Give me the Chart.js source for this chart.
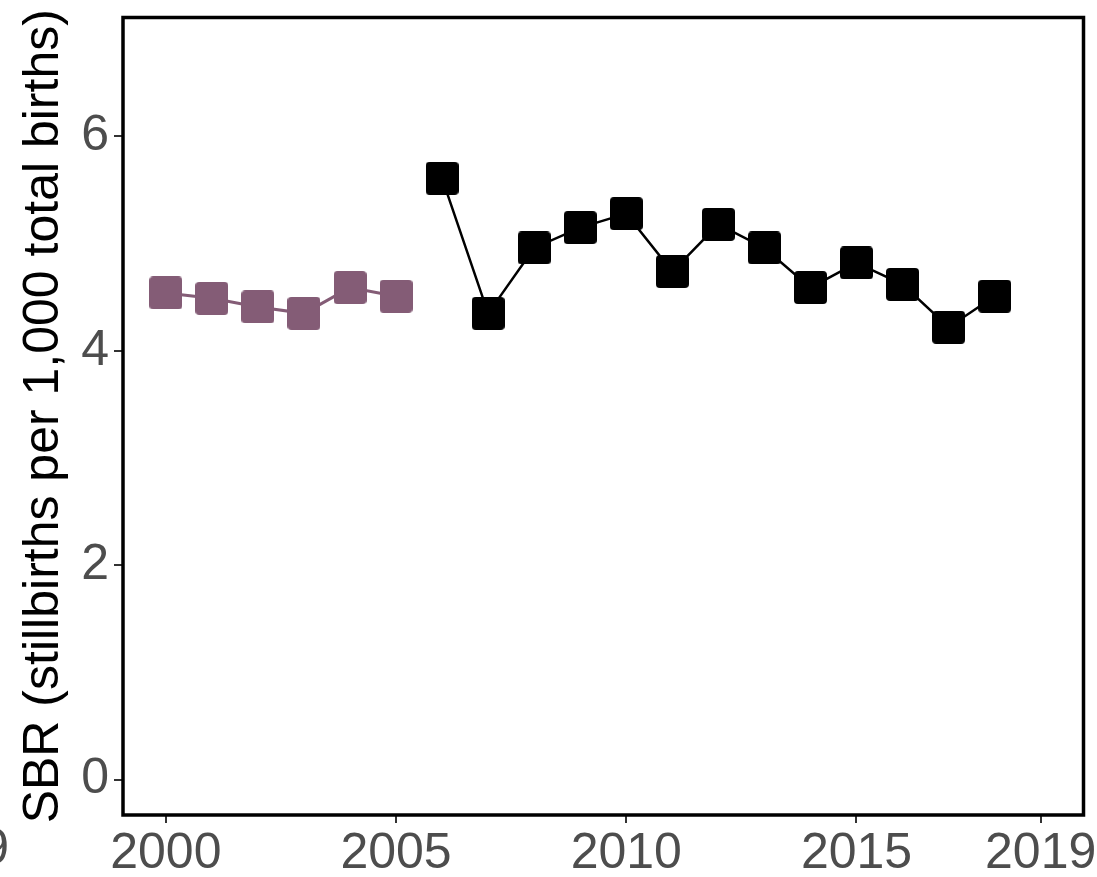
<!DOCTYPE html>
<html>
<head>
<meta charset="utf-8">
<script src="https://cdn.jsdelivr.net/npm/chart.js@4"></script>
<style>
  html, body { margin: 0; padding: 0; background: #fff; overflow: hidden; }
  #wrap { width: 1103px; height: 879px; margin-top: -2px; position: relative; }
  canvas { display: block; }
</style>
</head>
<body>
<div id="wrap"><canvas id="sbrChart"></canvas></div>
<script>
// Datos
const yearsEarly = [2000, 2001, 2002, 2003, 2004, 2005];
const sbrEarly = [4.54, 4.49, 4.41, 4.35, 4.59, 4.51];
const yearsLate = [2006, 2007, 2008, 2009, 2010, 2011, 2012, 2013, 2014, 2015, 2016, 2017, 2018];
const sbrLate = [5.61, 4.35, 4.96, 5.15, 5.28, 4.74, 5.18, 4.96, 4.59, 4.82, 4.62, 4.22, 4.51];
const xTicks = [2000, 2005, 2010, 2015, 2019];
const yTicks = [0, 2, 4, 6];

const PURPLE = '#845C76';
const TICK_GRAY = '#4D4D4D';
const FONT = '"Liberation Sans", Arial, sans-serif';

// Marcador cuadrado con esquinas apenas redondeadas
function makeSquare(color, size) {
    const c = document.createElement('canvas');
    c.width = size;
    c.height = size;
    const ctx = c.getContext('2d');
    ctx.fillStyle = color;
    ctx.beginPath();
    ctx.roundRect(0, 0, size, size, 4);
    ctx.fill();
    return c;
}

function toPoints(xs, ys) {
    return xs.map((x, i) => ({ x: x, y: ys[i] }));
}

// Marco del panel y fragmento de etiqueta del panel vecino
const framePlugin = {
    id: 'frame',
    afterDatasetsDraw(chart) {
        const a = chart.chartArea;
        const ctx = chart.ctx;
        ctx.save();
        ctx.strokeStyle = '#000';
        ctx.lineWidth = 3.5;
        ctx.strokeRect(a.left, a.top, a.right - a.left, a.bottom - a.top);
        ctx.restore();
    },
    afterDraw(chart) {
        const ctx = chart.ctx;
        ctx.save();
        ctx.font = '50px ' + FONT;
        ctx.fillStyle = TICK_GRAY;
        ctx.textAlign = 'right';
        ctx.textBaseline = 'alphabetic';
        ctx.fillText('2019', 9, 866);
        ctx.restore();
    }
};

const sq = 33;

new Chart(document.getElementById('sbrChart'), {
    type: 'line',
    data: {
        datasets: [{
            data: toPoints(yearsEarly, sbrEarly),
            borderColor: PURPLE,
            borderWidth: 3,
            pointStyle: makeSquare(PURPLE, sq),
            pointRadius: sq / 2,
            pointHoverRadius: sq / 2
        }, {
            data: toPoints(yearsLate, sbrLate),
            borderColor: '#000',
            borderWidth: 2.5,
            pointStyle: makeSquare('#000', sq),
            pointRadius: sq / 2,
            pointHoverRadius: sq / 2
        }]
    },
    options: {
        responsive: true,
        maintainAspectRatio: false,
        animation: false,
        layout: { padding: { left: 0, top: 17.5, right: 14, bottom: 0 } },
        plugins: {
            legend: { display: false },
            tooltip: { enabled: false }
        },
        scales: {
            x: {
                type: 'linear',
                min: 1999.07,
                max: 2019.93,
                afterBuildTicks: (axis) => { axis.ticks = xTicks.map(v => ({ value: v })); },
                afterFit: (axis) => {
                    axis.height = 62;
                    axis.paddingLeft = 0;
                    axis.paddingRight = 0;
                },
                border: { display: false },
                grid: { drawOnChartArea: false, drawTicks: true, tickLength: 8, color: '#333', lineWidth: 2 },
                ticks: {
                    color: TICK_GRAY,
                    padding: 1,
                    maxRotation: 0,
                    font: { family: FONT, size: 50 },
                    callback: (v) => String(v)
                }
            },
            y: {
                min: -0.33,
                max: 7.11,
                afterBuildTicks: (axis) => { axis.ticks = yTicks.map(v => ({ value: v })); },
                afterFit: (axis) => {
                    axis.width = 123;
                    axis.paddingTop = 0;
                    axis.paddingBottom = 0;
                },
                border: { display: false },
                grid: { drawOnChartArea: false, drawTicks: true, tickLength: 9, color: '#333', lineWidth: 2 },
                ticks: {
                    color: TICK_GRAY,
                    padding: 5,
                    font: { family: FONT, size: 50 },
                    callback: (v) => String(v)
                },
                title: {
                    display: true,
                    text: 'SBR (stillbirths per 1,000 total births)',
                    color: '#000',
                    padding: { top: 14, bottom: 0 },
                    font: { family: FONT, size: 50 }
                }
            }
        }
    },
    plugins: [framePlugin]
});
</script>
</body>
</html>
